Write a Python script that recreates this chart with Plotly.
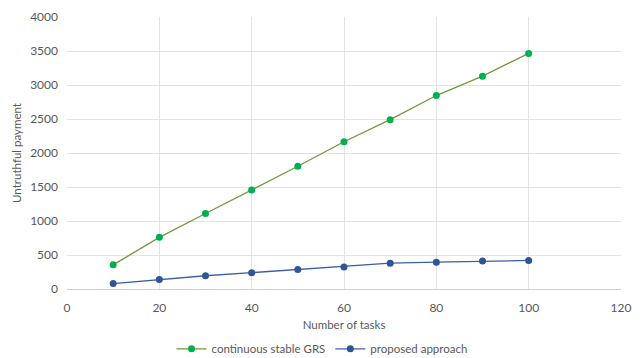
import plotly.graph_objects as go

# Number of tasks on the x axis
tasks = [10, 20, 30, 40, 50, 60, 70, 80, 90, 100]

# Untruthful payment per method
grs_payment = [355, 760, 1110, 1455, 1805, 2165, 2490, 2845, 3130, 3465]
proposed_payment = [80, 140, 195, 240, 285, 325, 380, 395, 410, 420]

series_names = ["continuous stable GRS", "proposed approach"]

font_family = "Lato, 'Open Sans', sans-serif"
text_color = "#595959"
grid_color = "#e3e3e3"

fig = go.Figure()
fig.add_trace(go.Scatter(
    x=tasks, y=grs_payment, name=series_names[0], mode="lines+markers",
    line=dict(color="#6f9a3c", width=1.3),
    marker=dict(color="#00b050", size=7),
))
fig.add_trace(go.Scatter(
    x=tasks, y=proposed_payment, name=series_names[1], mode="lines+markers",
    line=dict(color="#3b5fa8", width=1.3),
    marker=dict(color="#2f5597", size=7),
))

fig.update_layout(
    width=644, height=358,
    margin=dict(l=67, r=23, t=17, b=69, autoexpand=False),
    paper_bgcolor="white", plot_bgcolor="white",
    font=dict(family=font_family, size=12, color=text_color),
    showlegend=True,
    legend=dict(
        orientation="h", xref="container", yref="paper",
        x=0.5, xanchor="center", y=-0.22, yanchor="middle",
        font=dict(size=11.5, color=text_color),
        itemwidth=30, tracegroupgap=0,
    ),
    xaxis=dict(
        range=[0, 120], dtick=20, tick0=0,
        showgrid=True, gridcolor=grid_color, gridwidth=1,
        showline=True, linecolor="#d0d0d0", linewidth=1,
        zeroline=False, ticks="", ticklen=0,
        automargin=False, ticklabelstandoff=8,
        title=dict(text="Number of tasks", font=dict(size=11.5, color=text_color), standoff=6),
        tickfont=dict(size=12, color=text_color),
    ),
    yaxis=dict(
        range=[0, 4000], dtick=500, tick0=0,
        showgrid=True, gridcolor=grid_color, gridwidth=1,
        showline=False, zeroline=False, ticks="",
        automargin=False, ticklabelstandoff=8,
        title=dict(text="Untruthful payment", font=dict(size=11.5, color=text_color), standoff=6),
        tickfont=dict(size=12, color=text_color),
    ),
)

fig.write_html("out.html")
